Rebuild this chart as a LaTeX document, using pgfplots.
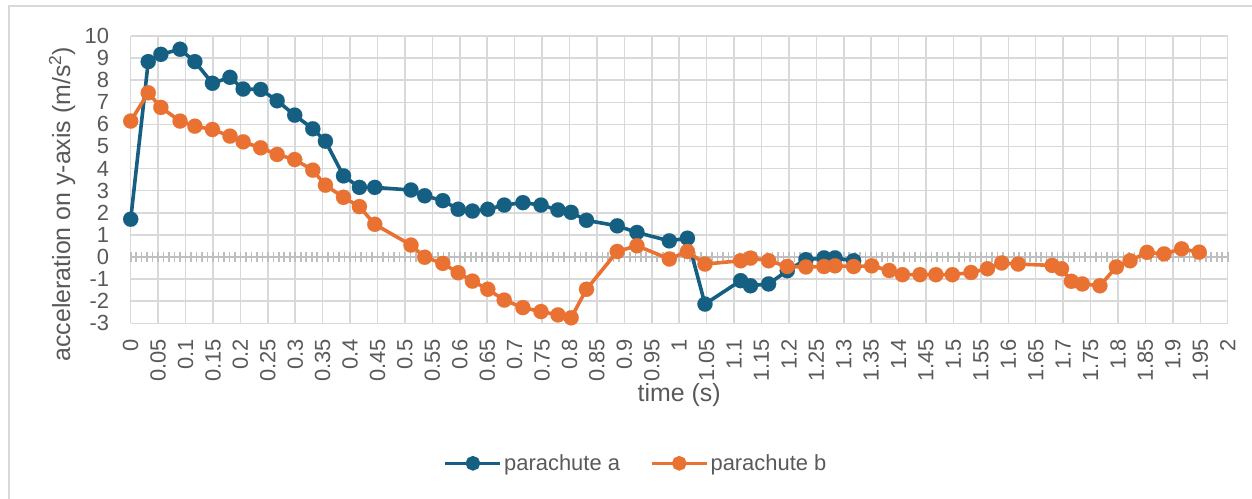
\documentclass[border=0pt]{standalone}
\usepackage{fontspec}
\setmainfont{Liberation Sans}
\usepackage{pgfplots}
\usepackage{pgfplotstable}
\pgfplotsset{compat=1.18}
\definecolor{ablue}{HTML}{156082}
\definecolor{borange}{HTML}{E97132}
\definecolor{gridgray}{HTML}{D9D9D9}
\definecolor{axisgray}{HTML}{BFBFBF}
\definecolor{textgray}{HTML}{595959}

\pgfplotstableread{
t a
0.000 1.71
0.032 8.84
0.055 9.17
0.090 9.40
0.117 8.84
0.149 7.86
0.181 8.13
0.205 7.60
0.237 7.58
0.267 7.07
0.299 6.42
0.332 5.80
0.355 5.24
0.388 3.67
0.417 3.15
0.445 3.15
0.511 3.03
0.536 2.77
0.569 2.55
0.597 2.16
0.623 2.08
0.651 2.16
0.681 2.35
0.715 2.46
0.748 2.35
0.779 2.13
0.803 2.02
0.831 1.66
0.887 1.41
0.923 1.11
0.982 0.73
1.015 0.85
1.047 -2.13
1.112 -1.07
1.130 -1.30
1.163 -1.22
1.197 -0.62
1.231 -0.12
1.264 -0.04
1.284 -0.04
1.318 -0.17
}\dataa

\pgfplotstableread{
t b
0.000 6.15
0.032 7.43
0.055 6.77
0.090 6.15
0.117 5.92
0.149 5.77
0.181 5.47
0.205 5.21
0.237 4.94
0.267 4.64
0.299 4.41
0.332 3.93
0.355 3.25
0.388 2.70
0.417 2.28
0.445 1.48
0.511 0.54
0.536 -0.01
0.569 -0.29
0.597 -0.71
0.623 -1.09
0.651 -1.46
0.681 -1.95
0.715 -2.29
0.748 -2.47
0.779 -2.62
0.803 -2.75
0.831 -1.46
0.887 0.25
0.923 0.51
0.982 -0.09
1.015 0.25
1.047 -0.32
1.112 -0.17
1.130 -0.05
1.163 -0.17
1.197 -0.43
1.231 -0.45
1.264 -0.43
1.284 -0.40
1.318 -0.43
1.351 -0.40
1.383 -0.61
1.407 -0.80
1.439 -0.80
1.468 -0.80
1.498 -0.80
1.532 -0.70
1.562 -0.53
1.588 -0.27
1.618 -0.32
1.680 -0.38
1.697 -0.53
1.715 -1.10
1.735 -1.22
1.767 -1.30
1.797 -0.45
1.822 -0.17
1.853 0.21
1.884 0.14
1.916 0.37
1.948 0.22
}\datab

\begin{document}
\begin{tikzpicture}
\useasboundingbox (-130.7bp,-175.7bp) rectangle (1121.3bp,323.3bp);
\draw[gridgray, line width=1.5bp] (-121.7bp,-180bp) -- (-121.7bp,317.3bp) -- (1130bp,317.3bp);
\begin{axis}[
  scale only axis, width=1097bp, height=287.3bp,
  xmin=0, xmax=2, ymin=-3, ymax=10,
  xtick distance=0.05, ytick distance=1,
  grid=major, major grid style={gridgray, line width=1.5bp},
  axis line style={draw=none}, major tick length=0pt, tick style={draw=none},
  ticklabel style={font=\fontsize{22}{26}\selectfont, text=textgray, inner sep=0pt},
  xticklabel style={rotate=90, anchor=east},
  yticklabel style={anchor=east},
  xticklabel shift=15.5bp, yticklabel shift=21.5bp,
  /pgf/number format/fixed, /pgf/number format/precision=2,
  /pgf/number format/assume math mode=true,
  xlabel={time (s)}, ylabel={acceleration on y-axis (m/s\textsuperscript{2})},
  label style={font=\fontsize{25}{30}\selectfont, text=textgray},
  xlabel style={at={(axis description cs:0.5,0)}, anchor=center, yshift=-71.7bp},
  ylabel style={at={(axis description cs:-0.0626,0.415)}, anchor=center},
]
\end{axis}
\begin{axis}[
  scale only axis, width=1097bp, height=287.3bp,
  xmin=0, xmax=2, ymin=-3, ymax=10,
  axis x line=middle, axis y line=none,
  axis line style={axisgray, line width=1.8bp, -},
  xtick distance=0.05, minor x tick num=4, xticklabels={}, ytick=\empty,
  tick align=center, major tick length=10bp, minor tick length=10bp,
  tick style={axisgray, line width=1.6bp},
  clip=false,
  legend columns=2,
  legend style={at={(0.4606,-0.4873)}, anchor=center, draw=none, fill=none,
    font=\fontsize{22}{26}\selectfont, text=textgray,
    /tikz/every even column/.append style={column sep=28bp}},
  legend image code/.code={\draw[#1, mark=none] (0bp,0bp) -- (55bp,0bp); \fill[#1] (27.5bp,0bp) circle[radius=5.5bp];},
]
\addplot[ablue, line width=3.6bp, mark=*, mark size=7.6bp, mark options={solid, fill=ablue, draw=ablue, line width=0.1bp}] table[x=t, y=a] {\dataa};
\addlegendentry{parachute a}
\addplot[borange, line width=3.6bp, mark=*, mark size=7.6bp, mark options={solid, fill=borange, draw=borange, line width=0.1bp}] table[x=t, y=b] {\datab};
\addlegendentry{parachute b}
\end{axis}
\end{tikzpicture}
\end{document}
